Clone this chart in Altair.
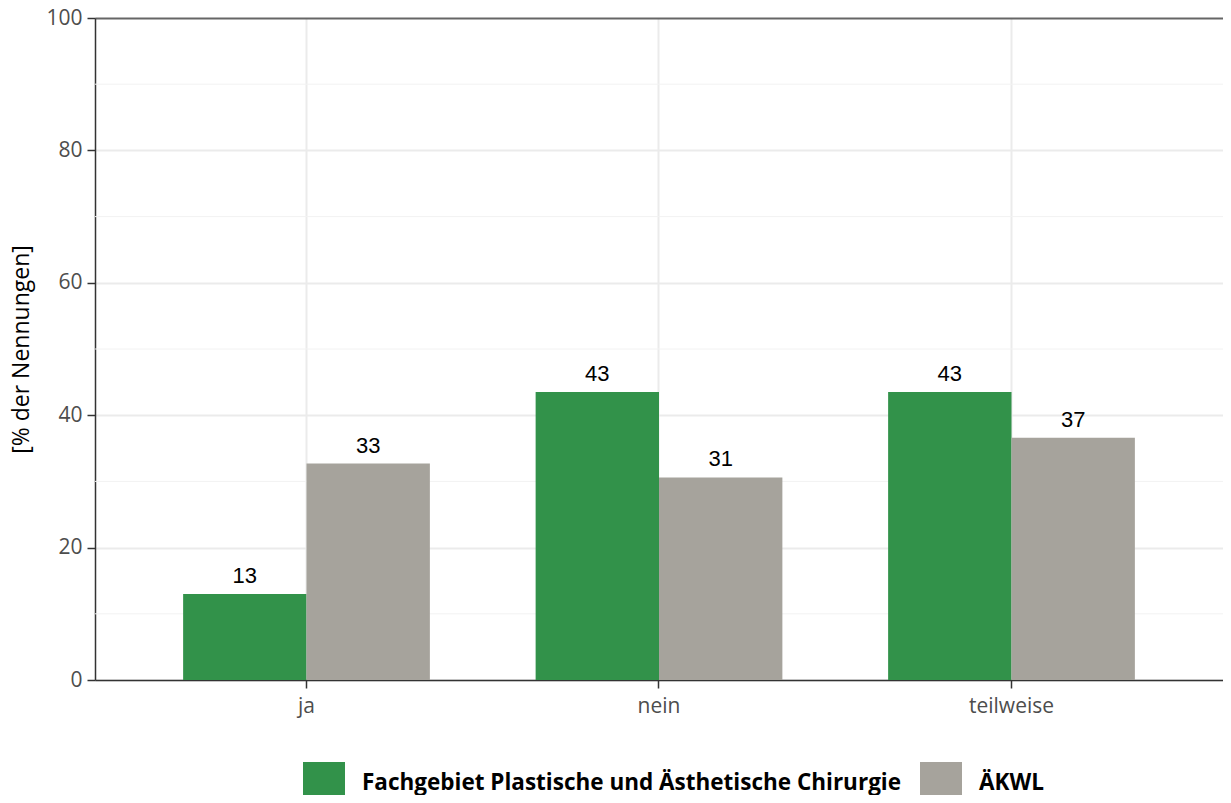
import altair as alt
import pandas as pd

categories = ["ja", "nein", "teilweise"]
series = ["Fachgebiet Plastische und Ästhetische Chirurgie", "ÄKWL"]
values_fach = [13.0, 43.5, 43.5]
values_aekwl = [32.7, 30.6, 36.6]
labels_fach = ["13", "43", "43"]
labels_aekwl = ["33", "31", "37"]
colors = ["#32924A", "#A6A39C"]
major_ticks = [0, 20, 40, 60, 80, 100]
minor_grid = [10, 30, 50, 70, 90]

rows = []
for c, v, l in zip(categories, values_fach, labels_fach):
    rows.append({"cat": c, "series": series[0], "value": v, "label": l})
for c, v, l in zip(categories, values_aekwl, labels_aekwl):
    rows.append({"cat": c, "series": series[1], "value": v, "label": l})
df = pd.DataFrame(rows)
minor_df = pd.DataFrame({"v": minor_grid})

x_enc = alt.X(
    "cat:N",
    sort=categories,
    scale=alt.Scale(paddingInner=0.3, paddingOuter=0.25),
    axis=alt.Axis(
        title=None,
        bandPosition=0.5,
        grid=True,
        gridColor="#EBEBEB",
        gridWidth=2,
        domainColor="#333333",
        domainWidth=1.5,
        tickColor="#333333",
        tickWidth=1.5,
        tickSize=8,
        labelPadding=7,
        labelFont="Open Sans",
        labelFontSize=21,
        labelColor="#4D4D4D",
        labelAngle=0,
    ),
)
xoff = alt.XOffset("series:N", sort=series, scale=alt.Scale(paddingInner=0, paddingOuter=0))
y_enc = alt.Y(
    "value:Q",
    scale=alt.Scale(domain=[0, 100], nice=False),
    axis=alt.Axis(
        title="[% der Nennungen]",
        values=major_ticks,
        grid=True,
        gridColor={"condition": {"test": "datum.value === 100", "value": "#666666"}, "value": "#EBEBEB"},
        gridWidth=2,
        domainColor="#333333",
        domainWidth=1.5,
        tickColor="#333333",
        tickWidth=1.5,
        tickSize=8,
        labelPadding=5,
        labelFont="Open Sans",
        labelFontSize=21,
        labelColor="#4D4D4D",
        titleFont="Open Sans",
        titleFontSize=23,
        titleFontWeight="normal",
        titleColor="#000000",
        titlePadding=12,
    ),
)

minor = alt.Chart(minor_df).mark_rule(color="#F2F2F2", strokeWidth=1).encode(y="v:Q")

bars = alt.Chart(df).mark_bar().encode(
    x=x_enc,
    xOffset=xoff,
    y=y_enc,
    color=alt.Color(
        "series:N",
        sort=series,
        scale=alt.Scale(domain=series, range=colors),
        legend=alt.Legend(
            title=None,
            orient="none",
            legendX=208,
            legendY=744,
            direction="horizontal",
            symbolType="square",
            symbolSize=1764,
            symbolStrokeWidth=0,
            symbolOpacity=1,
            labelFont="Open Sans",
            labelFontSize=22.5,
            labelFontWeight="bold",
            labelColor="#000000",
            labelLimit=0,
            labelOffset=17,
            columnPadding=18,
        ),
    ),
)

text = alt.Chart(df).mark_text(
    baseline="bottom", dy=-6, font="Liberation Sans", fontSize=22, color="#000000"
).encode(
    x=alt.X("cat:N", sort=categories),
    xOffset=alt.XOffset("series:N", sort=series),
    y="value:Q",
    text="label:N",
)

chart = (
    alt.layer(minor, bars, text)
    .properties(
        width=1128,
        height=662,
        autosize=alt.AutoSizeParams(type="none"),
        padding={"left": 87, "top": 10, "right": 0, "bottom": 115},
    )
    .configure_view(stroke=None)
    .configure(background="white")
)

chart.save("out.html", embed_options={"renderer": "svg", "actions": False})
